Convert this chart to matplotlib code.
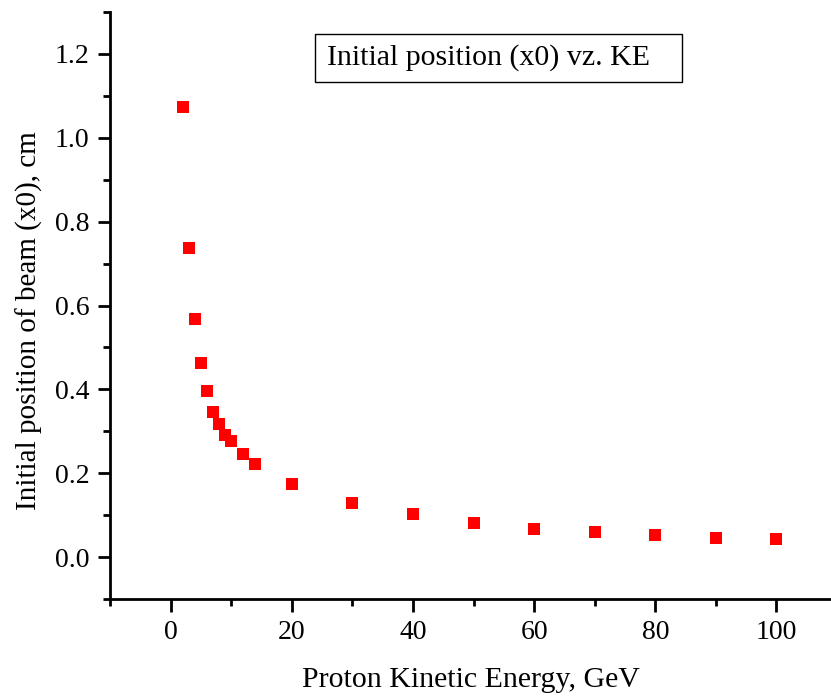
import matplotlib.pyplot as plt
from matplotlib.patches import Rectangle
from matplotlib.ticker import MultipleLocator

# energie cinetique du proton (GeV) et position initiale du faisceau (cm)
energie = [2, 3, 4, 5, 6, 7, 8, 9, 10, 12, 14, 20, 30, 40, 50, 60, 70, 80, 90, 100]
position_x0 = [1.073, 0.737, 0.568, 0.464, 0.397, 0.347, 0.318, 0.292, 0.277, 0.246,
               0.222, 0.175, 0.129, 0.103, 0.082, 0.067, 0.060, 0.052, 0.046, 0.043]

plt.rcParams['font.family'] = 'Liberation Serif'

W, H = 831, 697
fig = plt.figure(figsize=(W / 100, H / 100), dpi=100)
ax = fig.add_axes([110 / W, 98 / H, 721 / W, 587 / H])

ax.plot(energie, position_x0, 's', color='#ff0000', markersize=8.5, markeredgewidth=0)

ax.set_xlim(-10, 109)
ax.set_ylim(-0.1, 1.3)
ax.xaxis.set_major_locator(MultipleLocator(20))
ax.xaxis.set_minor_locator(MultipleLocator(10))
ax.yaxis.set_major_locator(MultipleLocator(0.2))
ax.yaxis.set_minor_locator(MultipleLocator(0.1))
ax.yaxis.set_major_formatter(lambda v, p: f'{v:.1f}')

ax.spines['top'].set_visible(False)
ax.spines['right'].set_visible(False)
ax.spines['left'].set_linewidth(2)
ax.spines['bottom'].set_linewidth(2)
ax.tick_params(which='major', direction='out', length=9, width=2, labelsize=20, pad=6)
ax.tick_params(which='minor', direction='out', length=5, width=2)

ax.set_xlabel('Proton Kinetic Energy, GeV', fontsize=21.5, labelpad=16)
ax.set_ylabel('Initial position of beam (x0), cm', fontsize=21)
ax.yaxis.set_label_coords(-0.093, 0.474)

# encadre du titre (style Origin)
fig.patches.append(Rectangle((315 / W, 1 - 82 / H), 367 / W, 48 / H, transform=fig.transFigure,
                             facecolor='white', edgecolor='black', linewidth=1))
fig.text(327 / W, 1 - 58 / H, 'Initial position (x0) vz. KE', fontsize=21.5, va='center', ha='left')

plt.savefig('out.png', dpi=100)
